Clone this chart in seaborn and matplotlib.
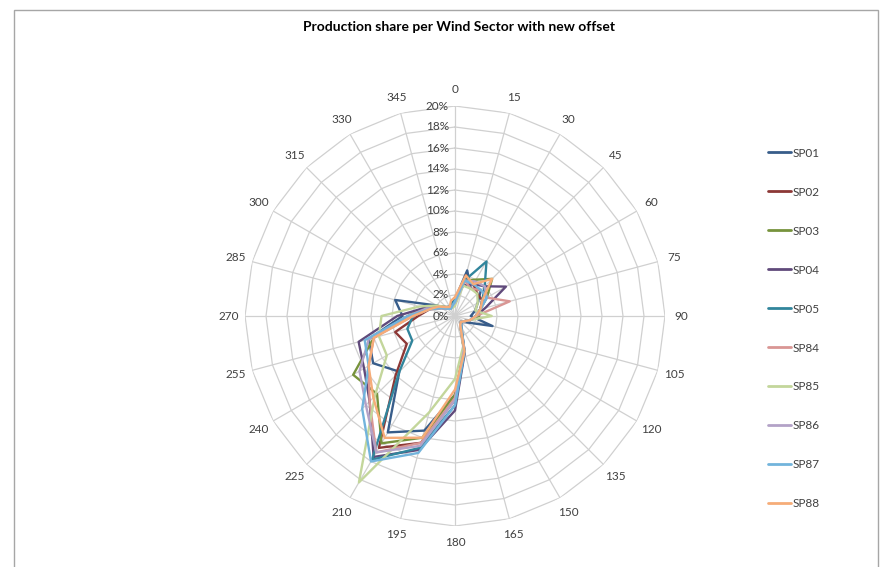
import numpy as np
import pandas as pd
import matplotlib
matplotlib.use("Agg")
import matplotlib.pyplot as plt
import matplotlib.transforms as mtransforms
from matplotlib.patches import Rectangle
from matplotlib.lines import Line2D
import seaborn as sns

# ---------------- data ----------------
sectors = [0, 15, 30, 45, 60, 75, 90, 105, 120, 135, 150, 165,
           180, 195, 210, 225, 240, 255, 270, 285, 300, 315, 330, 345]
series_names = ["SP01", "SP02", "SP03", "SP04", "SP05",
                "SP84", "SP85", "SP86", "SP87", "SP88"]

SP01 = [1.6, 4.5, 3.0, 3.5, 2.5, 2.0, 1.5, 3.7, 1.2, 0.8, 1.0, 3.4, 7.5, 11.3, 12.8, 7.5, 9.0, 8.5, 5.0, 5.9, 2.0, 1.0, 0.8, 1.2]
SP02 = [1.3, 4.0, 3.5, 3.0, 3.0, 2.5, 2.0, 1.5, 1.0, 0.8, 1.0, 3.3, 8.0, 12.5, 14.5, 8.0, 5.3, 5.9, 3.5, 2.5, 1.5, 1.0, 0.8, 1.0]
SP03 = [1.2, 3.5, 4.0, 5.0, 3.5, 2.5, 2.3, 1.5, 1.0, 0.8, 1.0, 3.3, 7.5, 12.0, 14.0, 10.5, 11.2, 8.0, 4.5, 3.0, 1.8, 1.2, 1.0, 1.0]
SP04 = [1.5, 3.0, 3.5, 4.0, 5.6, 3.0, 2.0, 1.5, 1.0, 0.8, 1.2, 3.6, 9.0, 13.2, 15.5, 11.5, 10.0, 9.5, 5.5, 3.0, 1.8, 1.2, 1.0, 1.0]
SP05 = [1.5, 3.5, 6.0, 4.0, 3.0, 2.5, 2.0, 1.5, 1.0, 0.8, 1.2, 3.5, 8.5, 13.0, 15.8, 7.5, 4.7, 4.7, 4.0, 2.5, 1.8, 1.2, 1.0, 1.2]
SP84 = [1.2, 3.5, 3.0, 3.5, 3.5, 5.4, 2.0, 1.5, 1.0, 0.8, 1.0, 3.3, 7.8, 12.5, 15.0, 11.5, 9.5, 8.0, 4.0, 2.5, 1.5, 1.0, 0.8, 1.0]
SP85 = [1.0, 3.0, 3.0, 3.0, 2.5, 2.0, 3.5, 1.5, 1.0, 0.8, 1.0, 3.0, 6.0, 9.5, 18.3, 10.8, 7.5, 7.5, 7.0, 3.5, 2.0, 1.2, 0.8, 0.8]
SP86 = [1.3, 3.5, 3.8, 4.0, 3.5, 2.5, 2.0, 1.5, 1.0, 0.8, 1.0, 3.3, 8.0, 12.8, 15.0, 12.0, 10.5, 8.5, 4.5, 2.8, 1.5, 1.0, 0.8, 1.0]
SP87 = [1.4, 3.5, 3.5, 3.5, 3.5, 2.5, 2.0, 1.5, 1.0, 0.8, 1.2, 3.5, 8.5, 13.5, 16.0, 12.5, 9.5, 8.9, 4.5, 2.5, 1.5, 1.0, 0.8, 1.0]
SP88 = [1.8, 4.0, 3.5, 5.0, 3.0, 2.5, 2.0, 1.5, 1.0, 0.8, 1.0, 3.5, 7.0, 12.0, 13.4, 11.0, 9.5, 8.0, 4.0, 2.5, 1.8, 1.2, 1.0, 1.5]

series_values = [SP01, SP02, SP03, SP04, SP05, SP84, SP85, SP86, SP87, SP88]
colors = ["#385D8A", "#8C3836", "#77933C", "#604A7B", "#31859C",
          "#D99694", "#C3D69B", "#B3A2C7", "#72B4DC", "#F6AC78"]
r_ticks = [0, 2, 4, 6, 8, 10, 12, 14, 16, 18, 20]
r_tick_labels = [f"{v}%" for v in r_ticks]
theta_labels = [str(s) for s in sectors]
title = "Production share per Wind Sector with new offset"

# ---------------- build long table (closed loops) ----------------
rows = []
for name, vals in zip(series_names, series_values):
    for k, (s, v) in enumerate(list(zip(sectors, vals)) + [(360, vals[0])]):
        rows.append({"series": name, "theta": np.deg2rad(s), "value": v, "order": k})
df = pd.DataFrame(rows)

# ---------------- style ----------------
sns.set_style("white")
plt.rcParams["font.family"] = ["Lato", "DejaVu Sans"]

W, H = 885, 567
fig = plt.figure(figsize=(W / 100, H / 100), dpi=100)
fig.patch.set_facecolor("white")

cx, cy, R = 455, 316, 210
ax = fig.add_axes([(cx - R) / W, (H - cy - R) / H, 2 * R / W, 2 * R / H],
                  projection="polar")
ax.set_theta_zero_location("N")
ax.set_theta_direction(-1)
ax.set_ylim(0, 20)
ax.set_facecolor("none")

grid_col = "#D0D0D0"
ax.spines["polar"].set_visible(False)
ax.yaxis.grid(False)
ax.xaxis.grid(True, color=grid_col, lw=0.9)

# polygon (web) gridlines
theta_closed = np.deg2rad(sectors + [360])
for r in r_ticks[1:]:
    ax.plot(theta_closed, [r] * len(theta_closed), color=grid_col, lw=0.9, zorder=1)

palette = dict(zip(series_names, colors))
sns.lineplot(data=df, x="theta", y="value", hue="series", palette=palette,
             units="series", estimator=None, sort=False, lw=1.7,
             ax=ax, legend=False, zorder=3)
ax.set_xlabel("")
ax.set_ylabel("")

# theta ticks
ax.set_xticks(np.deg2rad(sectors))
ax.set_xticklabels(theta_labels, fontsize=8.5, color="#404040")
ax.tick_params(axis="x", length=0, pad=5)

# radial tick labels along the 0 spoke
ax.set_yticks(r_ticks)
ax.set_yticklabels([])
ax.tick_params(axis="y", length=0)
off = mtransforms.offset_copy(ax.transData, fig=fig, x=-4.5, y=0, units="points")
for r, lab in zip(r_ticks, r_tick_labels):
    ax.text(0, r, lab, transform=off, ha="right", va="center",
            fontsize=8.5, color="#404040", zorder=4)

# title
fig.text(459 / W, 1 - 27 / H, title, ha="center", va="center",
         fontsize=10, fontweight="bold", color="#000000")

# legend
handles = [Line2D([0], [0], color=c, lw=2) for c in colors]
fig.legend(handles, series_names, loc="upper left",
           bbox_to_anchor=(757 / W, 1 - 137 / H), frameon=False,
           fontsize=8.5, handlelength=2.0, handletextpad=0.15,
           labelspacing=2.37, labelcolor="#404040")

# chart-area border
fig.patches.append(Rectangle((14 / W, -0.02), (878 - 14) / W, 1 - 10 / H + 0.02,
                             transform=fig.transFigure, fill=False,
                             edgecolor="#A6A6A6", lw=1))

fig.savefig("out.png", dpi=100)
